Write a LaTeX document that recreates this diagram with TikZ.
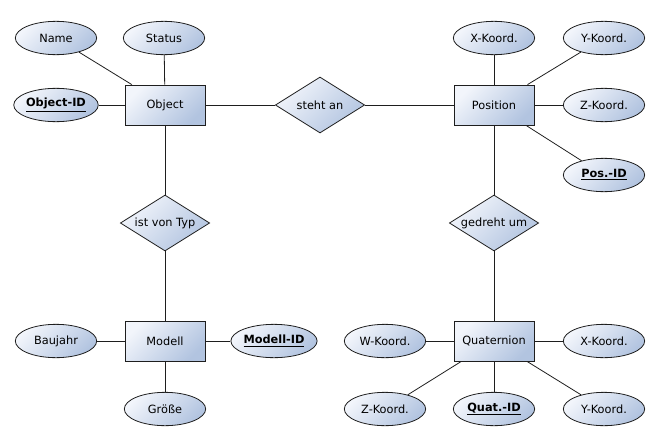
\documentclass[tikz,border=0pt]{standalone}
\usepackage{fontspec}
\setmainfont{DejaVu Sans}
\usepackage{xcolor}
\usetikzlibrary{positioning, shapes.geometric}

\definecolor{erlight}{RGB}{242,245,251}
\definecolor{erdark}{RGB}{178,196,224}
\definecolor{erline}{RGB}{30,30,30}

\begin{document}
\begin{tikzpicture}[x=0.75pt,y=-0.75pt,font=\fontsize{8.5}{10}\selectfont]
	\tikzstyle{erfill}=[draw=erline,line width=0.6pt,top color=erlight,bottom color=erdark,shading angle=45]
	\tikzstyle{entity}=[erfill,rectangle,minimum width=60pt,minimum height=30pt,inner sep=0pt]
	\tikzstyle{attr}=[erfill,ellipse,minimum width=61pt,minimum height=25pt,inner sep=0pt]
	\tikzstyle{rel}=[erfill,diamond,aspect=1.6,minimum width=67pt,minimum height=42pt,inner sep=0pt]
	\tikzstyle{link}=[draw=erline,line width=0.6pt]
	\useasboundingbox (0,0) rectangle (659,446);
	% entities
	\node[entity](object) at (165,105) {Object};
	\node[entity](position) at (494,105) {Position};
	\node[entity](modell) at (165,341) {Modell};
	\node[entity](quat) at (494,341) {Quaternion};
	% relations
	\node[rel](steht) at (320,105) {steht an};
	\node[rel](typ) at (165,223) {ist von Typ};
	\node[rel](gedreht) at (494,223) {gedreht um};
	% attributes
	\node[attr](name) at (56,38) {Name};
	\node[attr](status) at (164,38) {Status};
	\node[attr](objid) at (56,105) {\underline{\textbf{Object-ID}}};
	\node[attr](posx) at (494,38) {X-Koord.};
	\node[attr](posy) at (604,38) {Y-Koord.};
	\node[attr](posz) at (604,105) {Z-Koord.};
	\node[attr](posid) at (604,175) {\underline{\textbf{Pos.-ID}}};
	\node[attr](baujahr) at (56,341) {Baujahr};
	\node[attr](modid) at (274,341) {\underline{\textbf{Modell-ID}}};
	\node[attr](groesse) at (165,409) {Größe};
	\node[attr](quatw) at (385,341) {W-Koord.};
	\node[attr](quatx) at (604,341) {X-Koord.};
	\node[attr](quatz) at (385,409) {Z-Koord.};
	\node[attr](quatid) at (494,409) {\underline{\textbf{Quat.-ID}}};
	\node[attr](quaty) at (604,409) {Y-Koord.};
	% connectors
	\draw[link](name) -- (object);
	\draw[link](status) -- (object);
	\draw[link](objid) -- (object);
	\draw[link](object) -- (steht);
	\draw[link](steht) -- (position);
	\draw[link](object) -- (typ);
	\draw[link](typ) -- (modell);
	\draw[link](posx) -- (position);
	\draw[link](posy) -- (position);
	\draw[link](posz) -- (position);
	\draw[link](posid) -- (position);
	\draw[link](position) -- (gedreht);
	\draw[link](gedreht) -- (quat);
	\draw[link](baujahr) -- (modell);
	\draw[link](modid) -- (modell);
	\draw[link](groesse) -- (modell);
	\draw[link](quatw) -- (quat);
	\draw[link](quatx) -- (quat);
	\draw[link](quatz) -- (quat);
	\draw[link](quatid) -- (quat);
	\draw[link](quaty) -- (quat);
\end{tikzpicture}
\end{document}
